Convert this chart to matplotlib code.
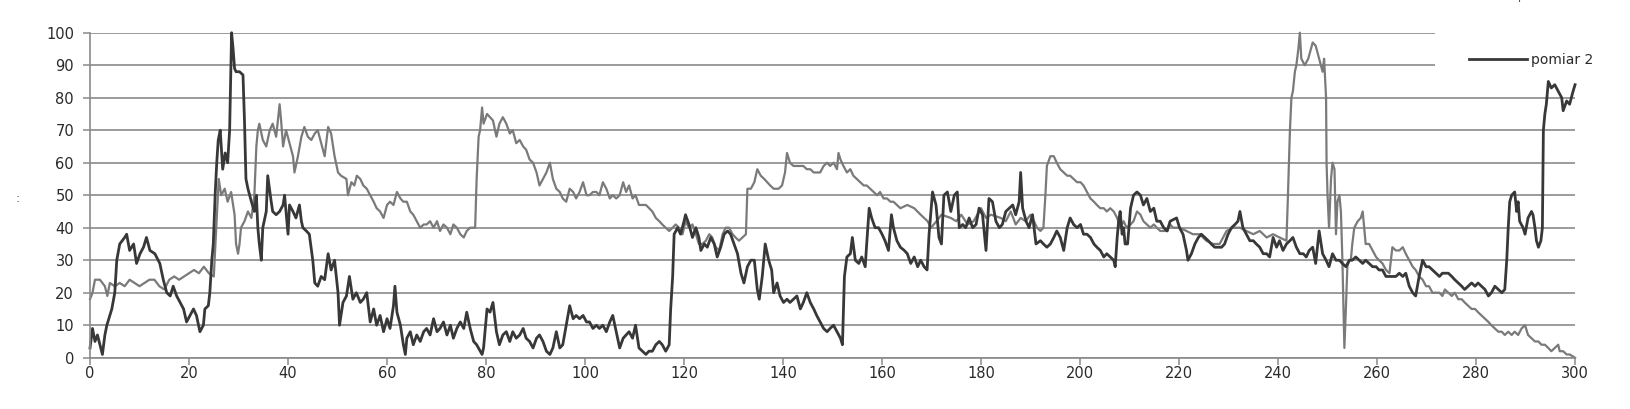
import matplotlib.pyplot as plt
from matplotlib.patches import Rectangle

# pomiar 2 (ciemna linia)
dark_x = [0, 0.5, 1, 1.5, 2, 2.5, 3, 3.4, 4.4, 5, 5.4, 6, 7, 7.4, 8, 8.8, 9.4, 10.1, 10.8, 11.4,
          12.1, 13.1, 14.1, 14.8, 15.5, 16.2, 16.8, 17.5, 18.2, 18.9, 19.5, 20.2, 20.9, 21.5, 22.2,
          22.9, 23.2, 23.9, 24.2, 24.6, 24.9, 25.3, 25.6, 25.9, 26.3, 26.8, 27.3, 27.8, 28.2, 28.6,
          28.9, 29.2, 29.5, 30.2, 30.9, 31.2, 31.5, 31.9, 32.6, 33.2, 33.6, 33.9, 34.2, 34.6, 34.9,
          35.6, 35.9, 36.6, 36.9, 37.6, 38.3, 39, 39.3, 40, 40.3, 41, 41.6, 42.3, 42.7, 43, 43.7,
          44.3, 45, 45.4, 46, 46.7, 47.4, 48.1, 48.7, 49.4, 50.1, 50.4, 51.1, 51.8, 52.4, 53.1, 53.8,
          54.6, 55.2, 55.9, 56.6, 57.3, 57.9, 58.6, 59.3, 60, 60.6, 61.3, 61.6, 62, 62.7, 63.3, 63.7,
          64, 64.7, 65.3, 66, 66.7, 67.4, 68, 68.7, 69.4, 70.1, 70.7, 71.4, 72.1, 72.8, 73.4, 74.1,
          74.8, 75.5, 76.1, 76.8, 77.5, 78.1, 79.2, 79.5, 80.2, 80.8, 81.4, 82.1, 82.7, 83.4, 84.1,
          84.8, 85.4, 86.1, 86.8, 87.5, 88.1, 88.8, 89.5, 90.2, 90.8, 91.5, 92.2, 92.9, 93.5, 94.2,
          94.9, 95.5, 96.2, 96.9, 97.6, 98.2, 98.9, 99.6, 100.3, 100.9, 101.6, 102.3, 102.9, 103.6,
          104.3, 105, 105.6, 106.3, 107, 107.7, 108.3, 108.9, 109.6, 110.2, 110.9, 111.6, 112.3,
          112.9, 113.6, 114.3, 115, 115.6, 116.3, 117, 117.3, 117.7, 118, 118.7, 119.3, 120, 120.3,
          121, 121.7, 122.4, 123, 123.4, 124.1, 124.7, 125.4, 126.1, 126.7, 127.4, 128.1, 128.8,
          129.4, 130.1, 130.8, 131.5, 132.1, 132.8, 133.5, 134.2, 134.8, 135.2, 135.8, 136.4, 137.1,
          137.7, 138.1, 138.8, 139.4, 140.1, 140.8, 141.4, 142.1, 142.8, 143.5, 144.1, 144.8, 145.5,
          146.2, 146.8, 147.5, 148.2, 148.9, 149.5, 150.2, 150.9, 151.6, 152, 152.4, 152.9, 153.6,
          154, 154.6, 155.3, 155.9, 156.6, 156.9, 157.4, 157.9, 158.6, 159.3, 160, 160.6, 161.3,
          161.9, 162.3, 163, 163.7, 164.5, 165.1, 165.8, 166.5, 167.2, 167.8, 168.5, 169.1, 169.5,
          170.2, 170.9, 171.5, 172, 172.5, 173.2, 173.9, 174.6, 175.2, 175.6, 176.3, 176.9, 177.6,
          178.3, 179, 179.6, 180.3, 181, 181.6, 182.3, 183, 183.7, 184.3, 185, 185.7, 186.4, 187,
          187.7, 188, 188.4, 189.1, 189.7, 190.4, 191.1, 192, 192.6, 193.3, 194, 194.7, 195.3, 196,
          196.7, 197.4, 198, 198.7, 199.4, 200.1, 200.7, 201.4, 202.1, 202.8, 203.4, 204.1, 204.8,
          205.4, 206.1, 206.8, 207.1, 207.5, 207.8, 208.1, 208.5, 208.8, 209.1, 209.6, 210.2, 210.8,
          211.5, 212.2, 212.8, 213.5, 214.2, 214.9, 215.5, 216.2, 216.9, 217.6, 218.2, 219.5, 220.1,
          220.8, 221.5, 221.8, 222.5, 223.2, 223.9, 224.5, 225.2, 225.9, 226.5, 227.2, 227.9, 228.6,
          229.2, 229.9, 230.6, 231.3, 231.9, 232.3, 232.9, 233.6, 234.3, 235, 235.6, 236.3, 237,
          237.7, 238.3, 239, 239.7, 240.3, 241, 241.7, 242.4, 243, 243.7, 244.4, 245.1, 245.7, 246.3,
          247, 247.6, 248.3, 249, 249.7, 250.3, 251, 251.7, 252.4, 253, 253.7, 254.4, 255, 255.7,
          256.4, 257.1, 257.7, 258.4, 259.1, 259.8, 260.4, 261.1, 261.8, 262.5, 263.1, 263.8, 264.5,
          265.2, 265.8, 266.5, 267.2, 267.8, 268.5, 269.2, 269.9, 270.5, 271.2, 271.9, 272.6, 273.2,
          274.4, 275.1, 275.7, 276.4, 277.1, 277.7, 278.4, 279.1, 279.8, 280.4, 281.1, 281.8, 282.5,
          283.1, 283.8, 284.5, 285.2, 285.8, 286.2, 286.5, 286.8, 287.2, 287.8, 288.2, 288.5, 288.8,
          289.5, 289.9, 290.5, 291.2, 291.5, 291.9, 292.2, 292.6, 293.1, 293.4, 293.6, 293.9, 294.2,
          294.6, 295.2, 295.9, 296.6, 297.3, 297.6, 298.3, 298.9, 299.6, 300]
dark_y = [3, 9, 5, 7, 4, 1, 7, 10, 15, 20, 30, 35, 37, 38, 33, 35, 29, 32, 34, 37,
          33, 32, 29, 24, 20, 19, 22, 19, 17, 15, 11, 13, 15, 13, 8,
          10, 15, 16, 20, 30, 35, 51, 60, 67, 70, 58, 63, 60, 70, 100,
          95, 89, 88, 88, 87, 73, 55, 52, 48, 45, 50, 40, 35, 30, 40,
          45, 56, 48, 45, 44, 45, 47, 50, 38, 47, 45, 43, 47, 42, 40, 39,
          38, 30, 23, 22, 25, 24, 32, 27, 30, 20, 10, 17, 19, 25, 18, 20,
          17, 18, 20, 11, 15, 10, 13, 8, 12, 9, 16, 22, 14, 10, 4, 1,
          6, 8, 4, 7, 5, 8, 9, 7, 12, 8, 9, 11, 7, 10, 6, 9,
          11, 9, 14, 9, 5, 4, 1, 3, 15, 14, 17, 8, 4, 7, 8,
          5, 8, 6, 7, 9, 6, 5, 3, 6, 7, 5, 2, 1, 3, 8,
          3, 4, 10, 16, 12, 13, 12, 13, 11, 11, 9, 10, 9, 10,
          8, 11, 13, 8, 3, 6, 7, 8, 6, 10, 3, 2, 1,
          2, 2, 4, 5, 4, 2, 4, 15, 25, 38, 40, 38, 42, 44,
          41, 37, 40, 37, 33, 35, 34, 37, 35, 31, 34, 38, 39,
          38, 35, 32, 26, 23, 28, 30, 30, 21, 18, 25, 35, 30,
          27, 20, 23, 19, 17, 18, 17, 18, 19, 15, 17, 20, 17,
          15, 13, 11, 9, 8, 9, 10, 8, 6, 4, 25, 31, 32,
          37, 30, 29, 31, 28, 35, 46, 43, 40, 40, 38, 36, 33,
          44, 40, 36, 34, 33, 32, 29, 31, 28, 30, 28, 27, 38,
          51, 47, 37, 35, 50, 51, 45, 50, 51, 40, 41, 40, 43,
          40, 41, 46, 44, 33, 49, 48, 42, 40, 41, 45, 46, 47, 44,
          48, 57, 46, 42, 40, 44, 35, 36, 35, 34, 35, 37, 39, 37,
          33, 40, 43, 41, 40, 41, 38, 38, 37, 35, 34, 33, 31,
          32, 31, 30, 28, 37, 42, 45, 38, 40, 35, 35, 46, 50,
          51, 50, 47, 49, 45, 46, 42, 42, 40, 39, 42, 43, 40,
          38, 33, 30, 32, 35, 37, 38, 37, 36, 35, 34, 34, 34,
          35, 38, 40, 41, 42, 45, 40, 38, 36, 36, 35, 34, 32,
          32, 31, 37, 34, 36, 33, 35, 36, 37, 34, 32, 32, 31, 33,
          34, 29, 39, 32, 30, 28, 32, 30, 30, 29, 28, 30, 30, 31,
          30, 29, 30, 29, 28, 28, 27, 27, 25, 25, 25, 25, 26,
          25, 26, 22, 20, 19, 25, 30, 28, 28, 27, 26, 25, 26,
          26, 25, 24, 23, 22, 21, 22, 23, 22, 23, 22, 21, 19,
          20, 22, 21, 20, 21, 30, 40, 48, 50, 51, 45, 48, 42,
          40, 38, 43, 45, 44, 40, 36, 34, 36, 40, 70, 75, 78,
          85, 83, 84, 82, 80, 76, 79, 78, 82, 84]

# druga seria (jasna linia)
light_x = [0, 0.5, 1, 2, 3, 3.5, 4, 5, 6, 7, 8, 9, 10, 11, 12, 13, 14, 15, 16, 17, 18, 19, 20,
           21, 22, 23, 24, 25, 25.5, 26, 26.5, 27.2, 27.8, 28.5, 29.2, 29.5, 29.9, 30.2, 30.5,
           31.2, 31.9, 32.6, 33.2, 33.6, 33.9, 34.2, 34.9, 35.6, 36.3, 36.9, 37.6, 38.3, 38.6, 39,
           39.6, 40.3, 41, 41.3, 42, 42.7, 43.3, 44, 44.7, 45.4, 46, 46.7, 47.4, 48.1, 48.7, 49.4,
           50.1, 50.7, 51.8, 52.1, 52.8, 53.4, 53.9, 54.6, 55.2, 55.9, 56.6, 57.3, 57.9, 58.6,
           59.3, 60, 60.6, 61.3, 62, 62.7, 63.3, 64, 64.7, 65.3, 66, 66.7, 67.4, 68, 68.7, 69.4,
           70.1, 70.7, 71.4, 72.1, 72.8, 73.4, 74.1, 74.8, 75.5, 76.1, 76.8, 77.8, 78.1, 78.5,
           78.8, 79.2, 79.5, 80.2, 80.8, 81.4, 82.1, 82.7, 83.4, 84.1, 84.8, 85.4, 86.1, 86.8,
           87.5, 88.1, 88.8, 89.5, 90.2, 90.8, 91.5, 92.2, 92.9, 93.5, 94.2, 94.9, 95.5, 96.2,
           96.9, 97.6, 98.2, 98.9, 99.6, 100.3, 100.9, 101.6, 102.3, 102.9, 103.6, 104.3, 105,
           105.6, 106.3, 107, 107.7, 108.3, 108.9, 109.6, 110.2, 110.9, 112.3, 113.6, 114.3, 115,
           115.6, 116.3, 117, 117.7, 118.3, 119, 119.7, 120.3, 121, 121.7, 122.4, 123, 123.7,
           124.4, 125.1, 125.7, 126.4, 127.1, 127.8, 128.4, 129.1, 129.8, 130.4, 131.1, 131.8,
           132.5, 132.8, 133.5, 134.2, 134.8, 135.5, 136.2, 137.4, 138.1, 139.1, 139.8, 140.4,
           140.8, 141.4, 142.1, 143.1, 144.1, 144.8, 145.5, 146.2, 146.8, 147.5, 148.2, 148.9,
           149.5, 150.2, 150.9, 151.2, 151.6, 152.2, 152.9, 153.6, 154.2, 154.9, 155.6, 156.3,
           156.9, 157.6, 158.3, 159, 159.6, 160.3, 161, 161.7, 162.3, 163, 163.7, 165.1, 166.5,
           167.8, 169.2, 169.9, 171, 172, 173.9, 175, 176, 177.3, 178.5, 180, 181, 182, 184, 185,
           186, 187, 188, 189, 190, 190.7, 191.3, 192, 192.6, 193, 193.3, 194, 194.7, 195.3, 196,
           196.7, 197.4, 198, 198.7, 199.4, 200.1, 200.7, 201.4, 202.1, 202.8, 203.4, 204.1,
           204.8, 205.4, 206.1, 206.8, 207.5, 208.1, 208.8, 209.4, 210.2, 210.8, 211.5, 212.2,
           212.8, 213.5, 214.2, 214.9, 215.5, 216.2, 216.9, 217.6, 218.2, 218.8, 220.1, 221.5,
           222.8, 224.2, 225.5, 226.9, 228.2, 229.6, 230.9, 232.3, 233.6, 235, 236.3, 237.7, 239,
           240.3, 241.7, 242, 242.4, 242.7, 243, 243.4, 243.7, 244.1, 244.4, 244.7, 245.4, 246.1,
           247, 247.6, 248.3, 249, 249.3, 249.7, 249.8, 250, 250.3, 250.7, 251, 251.4, 251.7, 252,
           252.4, 252.7, 253, 253.4, 253.7, 254, 254.4, 254.7, 255, 255.4, 256.1, 256.7, 257.1,
           257.7, 258.4, 259.1, 259.8, 260.4, 261.1, 261.8, 262.5, 263.1, 263.8, 264.5, 265.2,
           265.8, 266.5, 267.2, 267.8, 268.5, 269.2, 269.9, 270.5, 271.2, 271.9, 272.6, 273.2,
           273.7, 274.4, 275.1, 275.7, 276.4, 277.1, 277.7, 278.4, 279.1, 279.8, 280.4, 281.1,
           281.8, 282.5, 283.1, 283.8, 284.5, 285.2, 285.8, 286.5, 287.2, 287.8, 288.5, 289.2,
           289.9, 290.5, 291.2, 291.9, 292.6, 293.2, 293.9, 294.6, 295.2, 295.9, 296.6, 296.9,
           297.6, 298.3, 298.9, 300]
light_y = [18, 20, 24, 24, 22, 19, 23, 22, 23, 22, 24, 23, 22, 23, 24, 24, 22, 21, 24, 25, 24, 25, 26,
           27, 26, 28, 26, 25, 40, 55, 50, 52, 48, 51, 44, 35, 32, 35, 40,
           42, 45, 43, 50, 65, 70, 72, 67, 65, 70, 72, 68, 78, 73, 65,
           70, 66, 62, 57, 62, 68, 71, 68, 67, 69, 70, 66, 62, 71, 69, 62,
           57, 56, 55, 50, 54, 53, 56, 55, 53, 52, 50, 48, 46, 45,
           43, 47, 48, 47, 51, 49, 48, 48, 45, 44, 42, 40, 41, 41, 42, 40,
           42, 39, 41, 40, 38, 41, 40, 38, 37, 39, 40, 40, 55, 68,
           70, 77, 72, 75, 74, 73, 68, 72, 74, 72, 69, 70, 66, 67,
           65, 64, 61, 60, 57, 53, 55, 57, 60, 55, 52, 51, 49, 48,
           52, 51, 49, 51, 54, 50, 50, 51, 51, 50, 54, 52, 49,
           50, 49, 50, 54, 51, 53, 49, 50, 47, 47, 45, 43, 42,
           41, 40, 39, 40, 41, 40, 38, 42, 40, 41, 38, 35, 35,
           36, 38, 37, 34, 33, 38, 40, 40, 38, 37, 36, 37,
           38, 52, 52, 54, 58, 56, 55, 53, 52, 52, 53, 57,
           63, 60, 59, 59, 59, 58, 58, 57, 57, 57, 59, 60,
           59, 60, 58, 63, 61, 59, 57, 58, 56, 55, 54, 53,
           53, 52, 51, 50, 51, 49, 49, 48, 48, 47, 46, 47, 46,
           44, 42, 40, 42, 44, 43, 42, 44, 41, 42, 46, 43, 44, 43, 42,
           45, 41, 43, 42, 44, 42, 40, 39, 40, 50, 59, 62, 62, 60, 58,
           57, 56, 56, 55, 54, 54, 53, 51, 49, 48, 47, 46,
           46, 45, 46, 45, 43, 40, 42, 40, 41, 42, 45, 44,
           42, 41, 40, 41, 40, 39, 39, 39, 41, 40, 40, 39,
           38, 38, 36, 35, 35, 39, 40, 40, 39, 38, 39, 37, 38,
           37, 36, 50, 70, 80, 82, 88, 90, 95, 100, 92, 90, 92,
           97, 96, 92, 88, 92, 80, 60, 50, 40, 55, 60, 58, 38, 48,
           50, 45, 30, 3, 15, 28, 30, 30, 35, 40, 42, 43, 45,
           35, 35, 33, 31, 30, 29, 27, 26, 34, 33, 33, 34,
           32, 30, 28, 27, 25, 24, 22, 22, 20, 20, 20, 19,
           21, 20, 19, 20, 18, 18, 17, 16, 15, 15, 14, 13,
           12, 11, 10, 9, 8, 8, 7, 8, 7, 8, 7, 9,
           10, 7, 6, 5, 5, 4, 4, 3, 2, 3, 4, 2,
           2, 1, 1, 0]

x_ticks = list(range(0, 301, 20))
y_ticks = list(range(0, 101, 10))

fig = plt.figure(figsize=(16.31, 4.09), dpi=100)
ax = fig.add_axes([0.0552, 0.1254, 0.9105, 0.7946])

grid_col = '#8a8a8a'
ax.set_xlim(0, 300)
ax.set_ylim(0, 100)
ax.set_xticks(x_ticks)
ax.set_yticks(y_ticks)
ax.yaxis.grid(True, color=grid_col, linewidth=1.2)
ax.set_axisbelow(True)
for s in ['top', 'right']:
    ax.spines[s].set_visible(False)
for s in ['left', 'bottom']:
    ax.spines[s].set_color(grid_col)
    ax.spines[s].set_linewidth(1.2)
ax.tick_params(axis='both', colors=grid_col, length=5, width=1.1, labelsize=10.5,
               labelcolor='#2a2a2a')
ax.tick_params(axis='x', pad=1)
ax.tick_params(axis='y', pad=6.5)

ax.plot(light_x, light_y, color='#7a7a7a', linewidth=1.6, clip_on=False)
dark_line, = ax.plot(dark_x, dark_y, color='#383838', linewidth=2.0, clip_on=False)

# białe tło legendy zasłania fragment siatki
fig.patches.append(Rectangle((0.880, 0.815), 0.12, 0.125, transform=fig.transFigure,
                             facecolor='white', edgecolor='none', zorder=2))
fig.legend([dark_line], ['pomiar 2'], loc='center left', bbox_to_anchor=(0.893, 0.853),
           frameon=False, fontsize=10, handlelength=4.2, handletextpad=0.3,
           labelcolor='#2a2a2a')

fig.text(0.011, 0.515, ':', fontsize=9, color='#555555', ha='center', va='center')
fig.text(0.931, 1.0, 'p', fontsize=8, color='#555555', ha='left', va='baseline')

fig.savefig('out.png', dpi=100)
